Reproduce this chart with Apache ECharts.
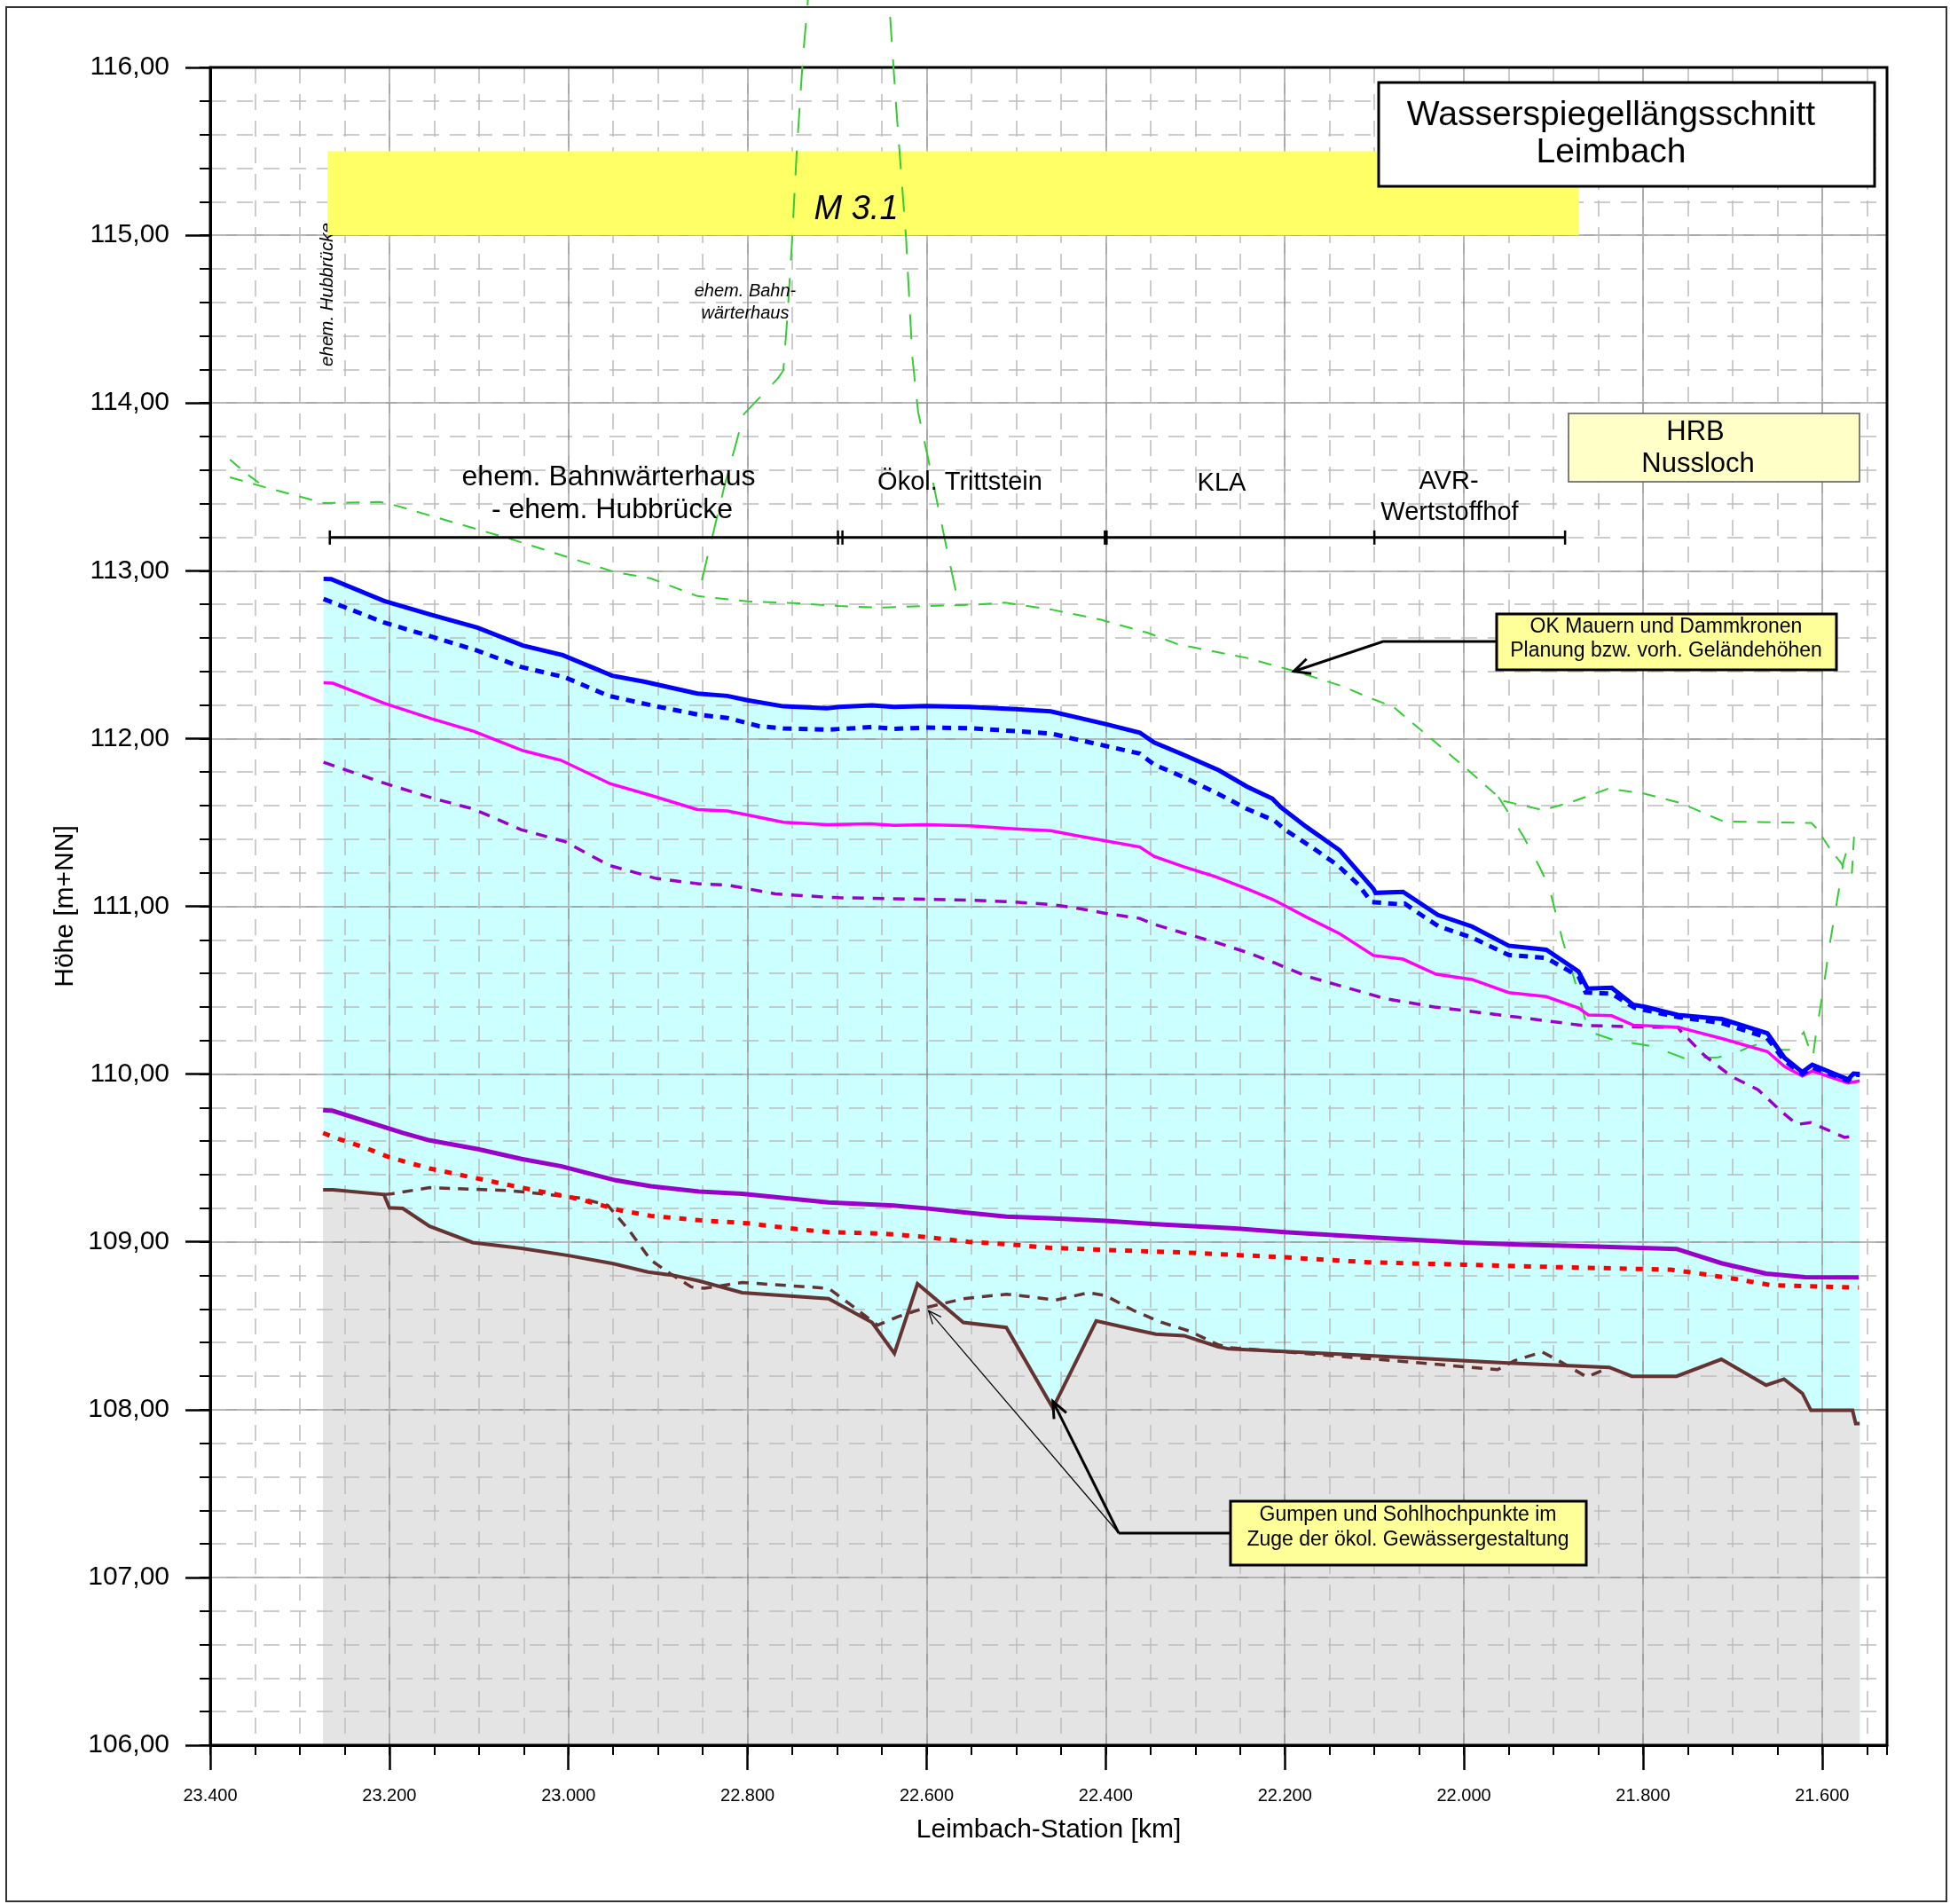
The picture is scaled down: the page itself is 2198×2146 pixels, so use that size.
<!DOCTYPE html>
<html>
<head>
<meta charset="utf-8">
<script src="https://cdn.jsdelivr.net/npm/echarts@6/dist/echarts.min.js"></script>
<style>
html,body{margin:0;padding:0;background:#fff;}
#c{width:2198px;height:2146px;}
</style>
</head>
<body>
<div id="c"></div>
<script>
// ---------------- DATA (station in km, height in m+NN) ----------------
const stationTicks = [23.4, 23.2, 23.0, 22.8, 22.6, 22.4, 22.2, 22.0, 21.8, 21.6];

// blue solid water level
const wspSolidKm = [23.2735,23.265,23.2058,23.1526,23.1017,23.0507,23.0064,22.951,22.9156,22.856,22.8226,22.800,22.760,22.7115,22.698,22.661,22.636,22.601,22.552,22.501,22.4615,22.433,22.400,22.362,22.346,22.313,22.2735,22.242,22.214,22.205,22.176,22.1385,22.114,22.101,22.0987,22.068,22.029,21.991,21.950,21.908,21.872,21.862,21.835,21.811,21.798,21.761,21.712,21.661,21.642,21.622,21.611,21.571,21.565,21.558];
const wspSolidH  = [112.952,112.95,112.82,112.736,112.661,112.554,112.497,112.374,112.339,112.268,112.254,112.228,112.192,112.18,112.189,112.198,112.189,112.194,112.189,112.175,112.162,112.127,112.086,112.035,111.977,111.903,111.81,111.713,111.642,111.593,111.474,111.333,111.183,111.104,111.08,111.086,110.948,110.88,110.765,110.741,110.612,110.51,110.515,110.413,110.401,110.352,110.328,110.243,110.097,110.012,110.056,109.968,110.003,110.0];

// blue dotted water level
const wspDotKm = [23.2735,23.2058,23.150,23.1017,23.053,23.004,22.955,22.907,22.854,22.8226,22.787,22.760,22.711,22.680,22.661,22.636,22.601,22.552,22.501,22.4615,22.433,22.400,22.362,22.346,22.313,22.2735,22.242,22.2115,22.200,22.172,22.141,22.118,22.103,22.070,22.066,22.044,22.028,21.991,21.950,21.908,21.872,21.864,21.835,21.809,21.761,21.712,21.662,21.642,21.622,21.611,21.571,21.565,21.558];
const wspDotH  = [112.832,112.691,112.603,112.524,112.427,112.365,112.254,112.198,112.141,112.123,112.074,112.06,112.053,112.062,112.069,112.058,112.065,112.062,112.044,112.03,111.995,111.956,111.91,111.845,111.77,111.668,111.58,111.51,111.457,111.36,111.245,111.13,111.025,111.012,111.016,110.935,110.88,110.814,110.71,110.692,110.583,110.486,110.479,110.394,110.34,110.304,110.219,110.08,110.0,110.04,109.96,109.995,109.995];

// magenta water level
const magentaKm = [23.2735,23.263,23.2058,23.1526,23.106,23.0507,23.0086,22.953,22.907,22.856,22.8226,22.800,22.760,22.711,22.663,22.636,22.601,22.552,22.501,22.4615,22.433,22.400,22.362,22.346,22.313,22.278,22.242,22.214,22.200,22.176,22.1385,22.101,22.068,22.031,21.991,21.950,21.908,21.872,21.861,21.835,21.811,21.761,21.712,21.661,21.642,21.622,21.611,21.571,21.558];
const magentaH  = [112.333,112.33,112.21,112.118,112.044,111.928,111.871,111.73,111.66,111.577,111.568,111.545,111.501,111.487,111.492,111.483,111.487,111.48,111.462,111.451,111.422,111.39,111.354,111.298,111.236,111.178,111.104,111.042,111.004,110.936,110.836,110.707,110.685,110.595,110.564,110.486,110.462,110.394,110.352,110.348,110.292,110.28,110.212,110.134,110.045,109.988,110.018,109.947,109.96];

// violet dashed water level
const violetDashKm = [23.2735,23.2035,23.150,23.106,23.053,23.004,22.955,22.902,22.854,22.8226,22.769,22.713,22.698,22.601,22.552,22.501,22.4615,22.433,22.400,22.362,22.346,22.313,22.278,22.242,22.2115,22.176,22.088,22.033,21.941,21.868,21.794,21.761,21.757,21.731,21.7013,21.6716,21.645,21.628,21.6125,21.575,21.5625];
const violetDashH  = [111.859,111.73,111.642,111.58,111.457,111.386,111.245,111.166,111.134,111.127,111.074,111.055,111.051,111.042,111.037,111.025,111.011,110.99,110.958,110.928,110.893,110.84,110.787,110.725,110.663,110.584,110.45,110.40,110.34,110.29,110.28,110.28,110.25,110.109,109.986,109.907,109.775,109.70,109.711,109.623,109.63];

// violet solid water level
const violetKm = [23.274,23.263,23.185,23.155,23.1007,23.0525,23.0074,22.9472,22.908,22.854,22.806,22.7095,22.637,22.601,22.553,22.511,22.464,22.4,22.344,22.256,22.2,22.106,22.0,21.931,21.869,21.7625,21.7125,21.6625,21.619,21.559];
const violetH  = [109.785,109.781,109.649,109.605,109.552,109.494,109.45,109.367,109.332,109.30,109.287,109.235,109.217,109.20,109.173,109.15,109.141,109.125,109.106,109.081,109.058,109.028,108.996,108.982,108.975,108.958,108.873,108.811,108.79,108.788];

// red dotted water level
const redDotKm = [23.274,23.257,23.227,23.2,23.155,23.107,23.0525,23.010,22.986,22.944,22.908,22.854,22.80,22.745,22.7095,22.649,22.607,22.553,22.505,22.464,22.4,22.306,22.2,22.106,22.0,21.9,21.769,21.744,21.694,21.656,21.559];
const redDotH  = [109.649,109.614,109.561,109.504,109.437,109.384,109.323,109.279,109.252,109.19,109.155,109.129,109.111,109.076,109.058,109.049,109.032,109.0,108.984,108.965,108.952,108.935,108.908,108.878,108.864,108.85,108.834,108.817,108.776,108.741,108.727];

// river bed (planned)
const sohleKm = [23.274,23.263,23.206,23.2,23.185,23.155,23.107,23.0525,22.9984,22.95,22.911,22.884,22.854,22.806,22.7095,22.661,22.636,22.6102,22.559,22.511,22.459,22.4106,22.3625,22.344,22.3125,22.275,22.2625,22.2,22.119,21.956,21.8375,21.8125,21.7625,21.7125,21.6625,21.6425,21.622,21.6125,21.566,21.5625,21.558];
const sohleH  = [109.31,109.31,109.282,109.203,109.199,109.093,108.996,108.961,108.917,108.87,108.82,108.802,108.767,108.697,108.661,108.52,108.335,108.75,108.52,108.49,108.009,108.529,108.471,108.45,108.441,108.376,108.362,108.347,108.326,108.279,108.252,108.199,108.199,108.30,108.146,108.182,108.097,107.996,107.996,107.917,107.917];

// river bed (existing, dashed)
const sohleAltKm = [23.206,23.197,23.155,23.107,23.065,23.047,22.9863,22.956,22.932,22.908,22.884,22.863,22.848,22.806,22.7095,22.685,22.655,22.631,22.601,22.559,22.511,22.494,22.456,22.419,22.4,22.369,22.3375,22.306,22.275,22.2625,22.2,22.119,22.056,21.9625,21.944,21.9125,21.894,21.8625,21.8375];
const sohleAltH  = [109.282,109.287,109.323,109.314,109.305,109.296,109.261,109.217,109.067,108.891,108.802,108.732,108.723,108.758,108.723,108.626,108.503,108.556,108.608,108.661,108.688,108.679,108.653,108.697,108.679,108.591,108.52,108.467,108.388,108.37,108.344,108.309,108.282,108.238,108.291,108.344,108.291,108.194,108.252];

// terrain / wall crest lines (green dashed)
const gelaendeKm = [23.378,23.339,23.273,23.211,23.2,23.065,22.947,22.9085,22.856,22.80,22.7425,22.698,22.654,22.601,22.548,22.5125,22.459,22.406,22.353,22.318,22.30,22.242,22.194,22.167,22.136,22.105,22.079,22.059,22.0,21.9615,21.956,21.912,21.883,21.839,21.802,21.758,21.721,21.71,21.612,21.6056,21.5908,21.579,21.5726,21.5667,21.5644,21.5594];
const gelaendeH  = [113.557,113.498,113.403,113.41,113.40,113.19,112.99,112.955,112.849,112.818,112.806,112.79,112.78,112.79,112.797,112.81,112.767,112.709,112.63,112.559,112.541,112.48,112.409,112.365,112.312,112.242,112.19,112.10,111.834,111.652,111.628,111.574,111.616,111.70,111.676,111.616,111.53,111.506,111.497,111.462,111.339,111.26,111.199,111.199,111.41,111.415];
const gelaendeLeftKm = [23.378,23.36,23.339];
const gelaendeLeftH  = [113.663,113.58,113.498];
const gelaendePeakKm = [22.851,22.842,22.826,22.804,22.766,22.760,22.7555,22.7506,22.745,22.738,22.733,22.728,22.646,22.642,22.634,22.623,22.616,22.6095,22.599,22.578,22.5655];
const gelaendePeakH  = [112.943,113.144,113.5,113.934,114.147,114.194,114.513,114.938,115.505,116.07,116.37,116.75,116.75,116.40,115.764,114.985,114.277,113.946,113.686,113.144,112.83];
const gelaendeRightKm = [21.9615,21.934,21.916,21.905,21.890,21.875,21.861,21.831,21.794,21.77,21.754,21.716,21.696,21.6815,21.66,21.6485,21.635,21.6205,21.6106,21.607,21.599,21.5908,21.5825,21.576,21.5733];
const gelaendeRightH  = [111.652,111.421,111.239,111.118,110.802,110.535,110.255,110.2,110.17,110.127,110.095,110.10,110.127,110.162,110.197,110.144,110.144,110.25,110.09,110.232,110.496,110.794,111.058,111.269,111.316];

// section bar (km) and band
const sectionKm = [23.2665, 22.6965, 22.4, 22.1, 21.887];
const sectionH = 113.198;
const bandKm = [23.269, 21.8716];
const bandH = [115.0, 115.5];

// ---------------- CHART ----------------
const BASE = 23.4;                          // axis starts at station 23.400 (left)
const X = km => +(BASE - km).toFixed(5);    // distance along axis from 23.400
const pts = (km, h) => km.map((k, i) => [X(k), h[i]]);
const FONT = '"Liberation Sans", Arial, Helvetica, sans-serif';

const chart = echarts.init(document.getElementById('c'), null, {renderer: 'canvas'});

function lineSeries(name, km, h, color, width, dash, z, extra) {
  return Object.assign({
    name, type: 'line', data: pts(km, h), symbol: 'none', smooth: false, z: z || 6,
    silent: true, animation: false,
    lineStyle: {color, width, type: dash || 'solid', cap: 'butt', join: 'miter'}
  }, extra || {});
}

const option = {
  animation: false,
  backgroundColor: '#ffffff',
  grid: {left: 237, right: 71, top: 76, bottom: 179, show: false},
  xAxis: [
    {type: 'value', position: 'bottom', min: 0, max: 1.8725, interval: 0.2, z: 3,
     axisLine: {show: true, onZero: false, lineStyle: {color: '#000', width: 3}},
     axisTick: {show: true, length: 28, lineStyle: {color: '#000', width: 2.5}, customValues: stationTicks.map(X)},
     axisLabel: {margin: 47, fontSize: 20, color: '#000', fontFamily: FONT,
                 customValues: stationTicks.map(X),
                 formatter: v => (BASE - v).toFixed(3)},
     splitLine: {show: true, lineStyle: {color: '#8c8c8c', width: 1.5}},
     name: 'Leimbach-Station [km]', nameLocation: 'middle', nameGap: 81,
     nameTextStyle: {fontSize: 30, color: '#000', fontFamily: FONT}},
    {type: 'value', position: 'bottom', min: 0, max: 1.8725, interval: 0.05, z: 3,
     axisLine: {show: false, onZero: false},
     axisTick: {show: true, length: 11, lineStyle: {color: '#000', width: 2}},
     axisLabel: {show: false},
     splitLine: {show: true, lineStyle: {color: '#bcbcbc', width: 1.5, type: [18, 12]}}}
  ],
  yAxis: [
    {type: 'value', position: 'left', min: 106, max: 116, interval: 1, z: 3,
     axisLine: {show: true, onZero: false, lineStyle: {color: '#000', width: 3}},
     axisTick: {show: true, length: 28, lineStyle: {color: '#000', width: 2.5}},
     axisLabel: {margin: 46, fontSize: 30, color: '#000', fontFamily: FONT,
                 formatter: v => v.toFixed(2).replace('.', ',')},
     splitLine: {show: true, lineStyle: {color: '#8c8c8c', width: 1.5}},
     name: 'Höhe [m+NN]', nameLocation: 'middle', nameGap: 146,
     nameTextStyle: {fontSize: 30, color: '#000', fontFamily: FONT}},
    {type: 'value', position: 'left', min: 106, max: 116, interval: 0.2, z: 3,
     axisLine: {show: false, onZero: false},
     axisTick: {show: true, length: 12, lineStyle: {color: '#000', width: 2}},
     axisLabel: {show: false},
     splitLine: {show: true, lineStyle: {color: '#bcbcbc', width: 1.5, type: [18, 12]}}}
  ],
  series: [
    // fills
    {name: 'fillWsp', type: 'line', data: pts(wspSolidKm, wspSolidH), symbol: 'none', z: 1, silent: true,
     lineStyle: {width: 0, opacity: 0}, areaStyle: {color: '#CCFFFF', opacity: 1, origin: 'start'}},
    {name: 'fillSohle', type: 'line', data: pts(sohleKm, sohleH), symbol: 'none', z: 2, silent: true,
     lineStyle: {width: 0, opacity: 0}, areaStyle: {color: '#E4E4E4', opacity: 1, origin: 'start'}},
    // green terrain lines
    lineSeries('Gelände', gelaendeKm, gelaendeH, '#33CC33', 2, [15, 12], 5, {clip: false}),
    lineSeries('Gelände links', gelaendeLeftKm, gelaendeLeftH, '#33CC33', 2, [15, 12], 5, {clip: false}),
    lineSeries('Gelände Spitze', gelaendePeakKm, gelaendePeakH, '#33CC33', 2, [28, 20], 5, {clip: false}),
    lineSeries('Gelände rechts', gelaendeRightKm, gelaendeRightH, '#33CC33', 2, [20, 22], 5, {clip: false}),
    // bed lines
    lineSeries('Sohle alt', sohleAltKm, sohleAltH, '#663333', 3.5, [12, 9], 6),
    lineSeries('Sohle', sohleKm, sohleH, '#663333', 4, 'solid', 7),
    // water levels
    lineSeries('WSP rot', redDotKm, redDotH, '#FF0000', 5, [8, 10], 7),
    lineSeries('WSP violett', violetKm, violetH, '#9900CC', 5, 'solid', 7),
    lineSeries('WSP violett gestr.', violetDashKm, violetDashH, '#9900CC', 3.5, [13, 10], 7),
    lineSeries('WSP magenta', magentaKm, magentaH, '#FF00FF', 3.5, 'solid', 7),
    lineSeries('WSP blau gestr.', wspDotKm, wspDotH, '#0000FF', 5, [10, 8], 7),
    lineSeries('WSP blau', wspSolidKm, wspSolidH, '#0000FF', 5, 'solid', 8)
  ]
};
chart.setOption(option);

// ---------------- ANNOTATIONS ----------------
const P = (km, h) => chart.convertToPixel({seriesIndex: 0}, [X(km), h]);

function T(text, x, y, size, o) {
  o = o || {};
  const al = o.align || 'center';
  return {
    type: 'text', x, y, z: o.z || 20, rotation: o.rotation || 0, silent: true,
    style: {text, x: 0, y: 0, fill: '#000',
            font: (o.italic ? 'italic ' : '') + size + 'px ' + FONT,
            textAlign: al, textVerticalAlign: 'middle', align: al, verticalAlign: 'middle'}
  };
}
function L(x1, y1, x2, y2, w, z) {
  return {type: 'line', z: z || 20, silent: true, shape: {x1, y1, x2, y2},
          style: {stroke: '#000', lineWidth: w || 3}};
}
function arrowHead(tip, tail, len, spread, w) {
  const a = Math.atan2(tail[1] - tip[1], tail[0] - tip[0]);
  const p1 = [tip[0] + len * Math.cos(a + spread), tip[1] + len * Math.sin(a + spread)];
  const p2 = [tip[0] + len * Math.cos(a - spread), tip[1] + len * Math.sin(a - spread)];
  return {type: 'polyline', z: 20, silent: true, shape: {points: [p1, tip, p2]},
          style: {stroke: '#000', lineWidth: w || 3, fill: 'none'}};
}

const g = [];
// outer frame
g.push({type: 'rect', z: 20, silent: true, shape: {x: 7, y: 8, width: 2187, height: 2135},
        style: {fill: 'none', stroke: '#333', lineWidth: 2}});

// plot frame (top / right border)
const c0 = P(BASE, 116), c1 = P(BASE - 1.8725, 106);
g.push({type: 'rect', z: 4.6, silent: true,
        shape: {x: c0[0], y: c0[1], width: c1[0] - c0[0], height: c1[1] - c0[1]},
        style: {fill: 'none', stroke: '#000', lineWidth: 3}});

// vertical label under the band
g.push(T('ehem. Hubbrücke', 369, 332, 20.5, {italic: true, rotation: Math.PI / 2, z: 3.5}));

// yellow band M 3.1
const b1 = P(bandKm[0], bandH[1]), b2 = P(bandKm[1], bandH[0]);
g.push({type: 'rect', z: 4, silent: true, shape: {x: b1[0], y: b1[1], width: b2[0] - b1[0], height: b2[1] - b1[1]},
        style: {fill: '#FFFF66', stroke: 'none'}});
g.push(T('M 3.1', 965, 236, 38, {italic: true, z: 4.5}));

// small italic label
g.push(T('ehem. Bahn-', 840, 328, 20, {italic: true}));
g.push(T('wärterhaus', 840, 353, 20, {italic: true}));

// section bar
const sy = P(22.5, sectionH)[1];
const sx0 = P(sectionKm[0], sectionH)[0], sx1 = P(sectionKm[4], sectionH)[0];
g.push(L(sx0, sy, sx1, sy, 3));
sectionKm.forEach((k, i) => {
  const px = P(k, sectionH)[0];
  if (i === 1) { g.push(L(px - 2.5, sy - 8, px - 2.5, sy + 8, 2.5)); g.push(L(px + 2.5, sy - 8, px + 2.5, sy + 8, 2.5)); }
  else if (i === 2) { g.push(L(px, sy - 8, px, sy + 8, 4.5)); }
  else { g.push(L(px, sy - 8, px, sy + 8, 2.5)); }
});
g.push(T('ehem. Bahnwärterhaus', 686, 538, 32));
g.push(T('- ehem. Hubbrücke', 690, 575, 32));
g.push(T('Ökol. Trittstein', 1082, 544, 29));
g.push(T('KLA', 1377, 545, 29));
g.push(T('AVR-', 1633, 543, 29));
g.push(T('Wertstoffhof', 1634, 578, 29));

// title box
g.push({type: 'rect', z: 20, silent: true, shape: {x: 1554, y: 93, width: 559, height: 117},
        style: {fill: '#fff', stroke: '#000', lineWidth: 3}});
g.push(T('Wasserspiegellängsschnitt', 1816, 130, 39, {z: 21}));
g.push(T('Leimbach', 1816, 172, 39, {z: 21}));

// HRB box
g.push({type: 'rect', z: 20, silent: true, shape: {x: 1768, y: 466, width: 328, height: 77},
        style: {fill: '#FFFFC8', stroke: '#555', lineWidth: 1.5}});
g.push(T('HRB', 1911, 487, 31, {z: 21}));
g.push(T('Nussloch', 1914, 523, 31, {z: 21}));

// callout OK Mauern
const tipOK = P(22.19, 112.40);
g.push({type: 'polyline', z: 20, silent: true, shape: {points: [[1687, 723], [1559, 723], tipOK]},
        style: {stroke: '#000', lineWidth: 3, fill: 'none'}});
g.push(arrowHead(tipOK, [1559, 723], 20, 0.45, 3));
g.push({type: 'rect', z: 20, silent: true, shape: {x: 1687, y: 692, width: 383, height: 63},
        style: {fill: '#FFFF99', stroke: '#000', lineWidth: 3}});
g.push(T('OK Mauern und Dammkronen', 1878, 707, 23, {z: 21}));
g.push(T('Planung bzw. vorh. Geländehöhen', 1878, 734, 23, {z: 21}));

// callout Gumpen
const knee = [1261, 1728];
const tipG1 = P(22.459, 108.05);
const tipG2 = P(22.598, 108.59);
g.push(L(1387, 1728, knee[0], knee[1], 3));
g.push(L(knee[0], knee[1], tipG1[0], tipG1[1], 3));
g.push(arrowHead(tipG1, knee, 20, 0.4, 3));
g.push(L(knee[0], knee[1], tipG2[0], tipG2[1], 1.2));
g.push(arrowHead(tipG2, knee, 16, 0.4, 1.2));
g.push({type: 'rect', z: 20, silent: true, shape: {x: 1387, y: 1692, width: 401, height: 72},
        style: {fill: '#FFFF99', stroke: '#000', lineWidth: 3}});
g.push(T('Gumpen und Sohlhochpunkte im', 1587, 1708, 23, {z: 21}));
g.push(T('Zuge der ökol. Gewässergestaltung', 1587, 1736, 23, {z: 21}));

chart.setOption({graphic: {elements: g}});
</script>
</body>
</html>
